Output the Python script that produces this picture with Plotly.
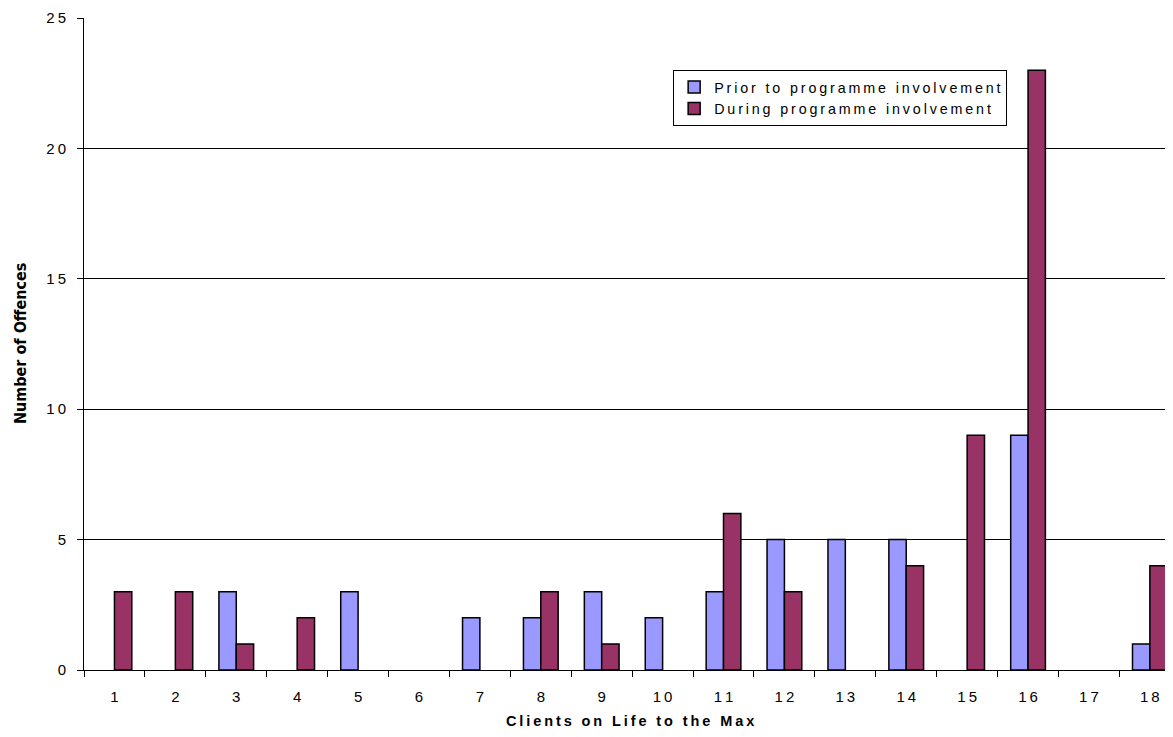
import plotly.graph_objects as go

clients = list(range(1, 19))
prior = [0, 0, 3, 0, 3, 0, 2, 2, 3, 2, 3, 5, 5, 5, 0, 9, 0, 1]
during = [3, 3, 1, 2, 0, 0, 0, 3, 1, 0, 6, 3, 0, 4, 9, 23, 0, 4]
y_ticks = [0, 5, 10, 15, 20, 25]
series_names = ["Prior to programme involvement", "During programme involvement"]
x_title = "Clients on Life to the Max"
y_title = "Number of Offences"

TS = "\u2009"  # thin space to mimic letter spacing


def spaced(s):
    return TS.join(s)


def nz(vals):
    return [v if v != 0 else None for v in vals]


fig = go.Figure()
fig.add_trace(go.Bar(x=clients, y=nz(prior), name=spaced(series_names[0]),
                     marker=dict(color="#9999FF", line=dict(color="black", width=1.5))))
fig.add_trace(go.Bar(x=clients, y=nz(during), name=spaced(series_names[1]),
                     marker=dict(color="#993366", line=dict(color="black", width=1.5))))

fig.update_layout(
    width=1173, height=737,
    margin=dict(l=76, r=8, t=10, b=75, autoexpand=False),
    paper_bgcolor="white", plot_bgcolor="white",
    barmode="group", bargap=0.43, bargroupgap=0,
    font=dict(family="Liberation Sans, Arial, sans-serif", color="black", size=15),
    legend=dict(x=0.541, y=0.92, xanchor="left", yanchor="top",
                bordercolor="black", borderwidth=1, bgcolor="white",
                font=dict(size=14.3), itemwidth=30, tracegroupgap=0),
    showlegend=True,
    annotations=[
        dict(text="<b>" + spaced(x_title) + "</b>", xref="x", yref="paper",
             x=9.47, y=0, yshift=-51, xanchor="center", yanchor="middle",
             showarrow=False, font=dict(size=14.5)),
        dict(text="<b>" + y_title + "</b>", xref="paper", yref="paper",
             x=0, xshift=-64, y=0.5, xanchor="center", yanchor="middle",
             textangle=-90, showarrow=False,
             font=dict(size=16, family="DejaVu Sans Condensed, Liberation Sans Narrow, sans-serif")),
    ],
)
fig.update_xaxes(
    range=[0.5, 18.38], tickmode="array", tickvals=clients,
    ticktext=[spaced(str(c)) for c in clients], ticks="", ticklabelstandoff=13,
    showline=True, linecolor="black", linewidth=1, showgrid=False, zeroline=False,
    automargin=False,
    minor=dict(ticks="outside", tick0=0.5, dtick=1, ticklen=6, tickcolor="black"),
)
fig.update_yaxes(
    range=[0, 25], tickmode="array", tickvals=y_ticks,
    ticktext=[spaced(str(v)) for v in y_ticks],
    ticks="outside", ticklen=6, tickcolor="black", ticklabelstandoff=8,
    showline=True, linecolor="black", linewidth=1, automargin=False,
    showgrid=True, gridcolor="black", gridwidth=1, zeroline=False,
)
fig.write_html("out.html")
